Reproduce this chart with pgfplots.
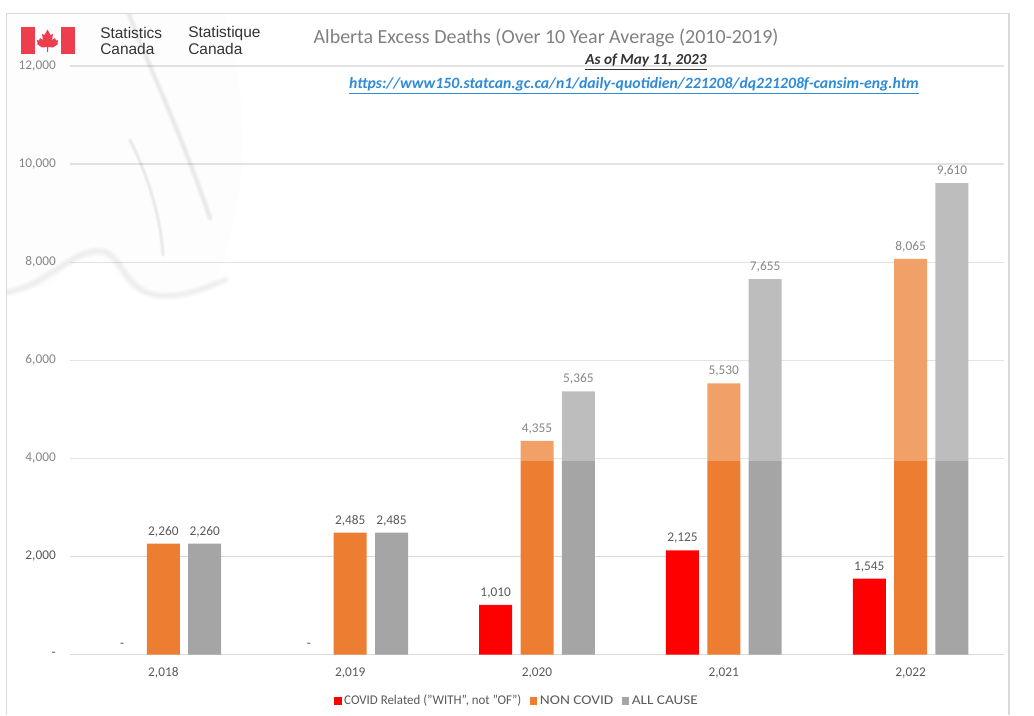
\documentclass[border=0pt]{standalone}
\usepackage{graphicx}
\usepackage{pgfplots}
\pgfplotsset{compat=1.18}
\usepackage{fontspec}
\setmainfont{Carlito}
\newfontfamily\logofont{Liberation Sans}
\definecolor{cRed}{HTML}{FF0000}
\definecolor{cOrange}{HTML}{ED7D31}
\definecolor{cGray}{HTML}{A5A5A5}
\definecolor{cGrid}{HTML}{D9D9D9}
\definecolor{cText}{HTML}{595959}
\definecolor{cLink}{HTML}{2E8BD8}
\definecolor{cFlag}{HTML}{EE3E4E}
\pgfplotsset{
  barstyle/.style={ybar,draw=none,fill=#1,bar width=24.75pt},
  barlabel/.style={
    nodes near coords={\pgfmathfloatifflags{\pgfplotspointmeta}{0}{-}{\pgfmathprintnumber{\pgfplotspointmeta}}},
    nodes near coords style={font=\fontsize{10}{12}\selectfont,text=cText,anchor=south,yshift=1.5pt,
      /pgf/number format/.cd,1000 sep={,},assume math mode=true},
  },
}
\begin{document}
\begin{tikzpicture}[x=0.75pt,y=-0.75pt]
\path[use as bounding box] (0,0) rectangle (1034,715);
\coordinate (O) at (70,654.5);
\begin{axis}[
    at={(O)},anchor=south west,
    scale only axis,width=700.5pt,height=441.4pt,
    xmin=-0.5,xmax=4.5,ymin=0,ymax=12000,
    ybar,
    clip=false,
    scaled y ticks=false,
    xtick={0,1,2,3,4},
    xticklabels={{2,018},{2,019},{2,020},{2,021},{2,022}},
    ytick={0,2000,4000,6000,8000,10000,12000},
    yticklabels={{-\hspace{6pt}},{2,000},{4,000},{6,000},{8,000},{10,000},{12,000}},
    ymajorgrids,
    grid style={cGrid,line width=0.9pt},
    axis y line=left,axis x line=bottom,
    axis line style={-},
    y axis line style={draw=none},
    x axis line style={cGrid,line width=0.9pt},
    tick style={draw=none},
    tick label style={font=\fontsize{10}{12}\selectfont,text=cText},
    xticklabel style={yshift=-4pt},
    yticklabel style={xshift=-5pt},
    legend image code/.code={\fill[#1] (0pt,-2.7pt) rectangle (5.4pt,2.7pt);},
    legend columns=-1,
    legend style={draw=none,fill=none,at={(0.479,-0.079)},anchor=center,
      font=\fontsize{10}{12}\selectfont,text=cText,
      /tikz/every even column/.append style={column sep=4.5pt}},
  ]
  \addplot[barstyle=cRed,bar shift=-31pt,barlabel] coordinates {(2,1010) (3,2125) (4,1545)};
  \addlegendentry{\scalebox{0.967}[1]{COVID Related ("WITH", not "OF")}}
  \addplot[barstyle=cOrange,bar shift=0pt,barlabel] coordinates {(0,2260) (1,2485) (2,4355) (3,5530) (4,8065)};
  \addlegendentry{\scalebox{1.15}[1]{NON COVID}}
  \addplot[barstyle=cGray,bar shift=31pt,barlabel] coordinates {(0,2260) (1,2485) (2,5365) (3,7655) (4,9610)};
  \addlegendentry{\scalebox{1.14}[1]{ALL CAUSE}}
  % the two empty years only carry a dash
  \addplot[barstyle=none,bar shift=-31pt,barlabel,forget plot] coordinates {(0,0) (1,0)};
\end{axis}
% washed-out background picture sitting over the top of the chart
\fill[white,opacity=0.27] (7,14) rectangle (1009,461);
\begin{scope}
  \clip (7,14) rectangle (1009,330);
  \fill[blue!30!gray,opacity=0.012] (7,14) -- (225,14) .. controls (245,90) and (255,180) .. (215,285) .. controls (170,300) and (150,298) .. (130,290) .. controls (105,250) and (85,245) .. (50,285) -- (7,295) -- cycle;
  \foreach \w in {5,4,3,2,1}{
    \draw[black,line width=\w,opacity=0.016,line cap=round] (125,4) .. controls (150,70) and (180,130) .. (210,218);
    \draw[black,line width=0.7*\w,opacity=0.014,line cap=round] (130,140) .. controls (145,170) and (160,210) .. (163,255);
    \draw[black,line width=1.4*\w,opacity=0.012,line cap=round] (5,293) .. controls (50,285) and (75,245) .. (105,252) .. controls (125,260) and (125,295) .. (165,296) .. controls (190,296) and (205,288) .. (225,280);
  }
\end{scope}
% frame
\draw[cGrid,line width=1.2pt] (6.5,715) -- (6.5,13.5) -- (1009,13.5) -- (1009,715);
% logo
\fill[cFlag] (21,27) rectangle (34.5,54);
\fill[cFlag] (61,27) rectangle (74.5,54);
\fill[cFlag] (47.5,29.5) -- (50.5,35) -- (53,34) -- (52,40) -- (55,38) -- (56,40.5) -- (58,40) -- (57.5,43) -- (58,44) -- (53,47.5) -- (48,47) -- (48,52) -- (47,52) -- (47,47) -- (42,47.5) -- (37,44) -- (37.5,43) -- (37,40) -- (39,40.5) -- (40,38) -- (43,40) -- (42,34) -- (44.5,35) -- cycle;
\node[anchor=west,inner sep=0,font=\logofont\fontsize{11.6}{13}\selectfont,text=black!80] at (100,33) {Statistics};
\node[anchor=west,inner sep=0,font=\logofont\fontsize{11.6}{13}\selectfont,text=black!80] at (100,48.5) {Canada};
\node[anchor=west,inner sep=0,font=\logofont\fontsize{11.6}{13}\selectfont,text=black!80] at (188,33) {Statistique};
\node[anchor=west,inner sep=0,font=\logofont\fontsize{11.6}{13}\selectfont,text=black!80] at (188,48.5) {Canada};
% titles
\node[font=\fontsize{15}{17}\selectfont,text=black!50] at (546,37.5) {Alberta Excess Deaths (Over 10 Year Average (2010-2019)};
\node[font=\fontsize{11.5}{13}\selectfont\bfseries\itshape,text=black!80] at (646,62) {\underline{As of May 11, 2023}};
\node[font=\fontsize{11.8}{13}\selectfont\bfseries\itshape,text=cLink] at (634,86) {\underline{https://www150.statcan.gc.ca/n1/daily-quotidien/221208/dq221208f-cansim-eng.htm}};
\end{tikzpicture}
\end{document}
